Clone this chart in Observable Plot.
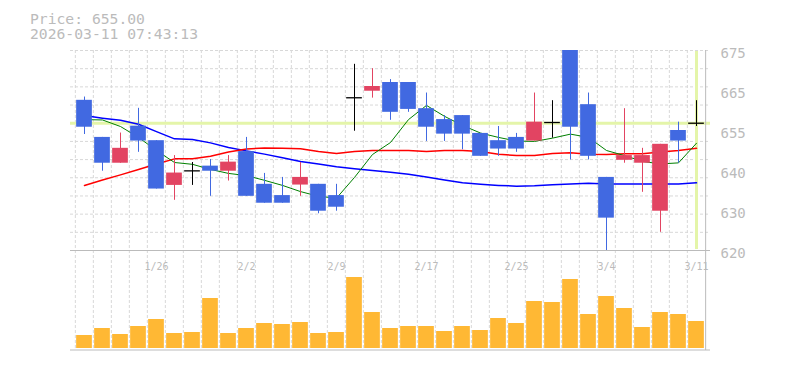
<!DOCTYPE html>
<html><head><meta charset="utf-8">
<script src="https://cdn.jsdelivr.net/npm/d3@7"></script>
<script src="https://cdn.jsdelivr.net/npm/@observablehq/plot@0.6"></script>
<style>
html,body{margin:0;padding:0;background:#fff;overflow:hidden;}
#wrap{position:relative;width:785px;height:370px;overflow:hidden;}
#title{position:absolute;left:30px;top:11px;font-family:"DejaVu Sans Mono",monospace;font-size:14.7px;line-height:15px;color:#bbb;white-space:pre;z-index:3;}
#vol{position:absolute;left:0;top:250px;z-index:1;}
#price{position:absolute;left:0;top:0;z-index:2;}
#wrap svg{display:block;max-width:none;}
</style></head><body>
<div id="wrap"><div id="vol"></div><div id="price"></div><div id="title"></div></div>
<script>
const titleLines = ["Price: 655.00", "2026-03-11 07:43:13"];
const currentPrice = 655.00;
const dates = ["1/20","1/21","1/22","1/23","1/26","1/27","1/28","1/29","1/30","2/2","2/3","2/4","2/5","2/6","2/9","2/10","2/12","2/13","2/16","2/17","2/18","2/19","2/20","2/24","2/25","2/26","2/27","3/2","3/3","3/4","3/5","3/6","3/9","3/10","3/11"];
const open  = [661.3,651.1,644.0,654.2,650.2,637.9,641.9,643.2,641.8,647.2,638.2,635.1,638.0,638.2,635.1,662.0,663.8,666.2,666.2,659.0,656.0,657.1,652.2,650.2,651.1,650.1,655.2,675.0,660.1,640.1,644.8,644.0,630.8,653.0,655.0];
const high  = [662.2,651.1,652.3,659.1,650.2,646.1,644.2,645.0,646.1,651.1,641.2,640.1,644.2,638.2,638.2,671.2,670.0,667.0,666.2,663.3,657.1,657.1,652.2,654.1,652.2,663.3,661.2,675.0,663.3,640.1,659.0,648.1,649.2,655.3,661.2];
const low   = [651.9,641.8,644.0,647.0,636.9,633.8,637.9,634.9,639.1,634.9,633.0,633.0,634.9,630.1,630.8,652.8,661.9,655.8,658.0,650.0,650.0,647.7,645.9,645.9,647.0,650.1,650.9,644.9,644.9,620.0,644.0,636.0,625.0,644.0,654.1];
const close = [653.9,644.0,648.1,650.1,636.9,641.3,641.9,641.8,644.3,634.9,633.0,633.0,640.1,630.8,631.9,662.0,665.1,658.0,658.8,653.9,652.0,652.0,645.9,647.9,647.9,655.3,655.2,653.9,645.9,628.9,646.1,646.1,649.2,650.1,655.0];
const volume = [13,20,14,22,29,15,16,50,15,20,25,24,26,15,16,71,36,20,22,22,17,22,18,30,25,47,46,69,34,52,40,21,36,34,27];
const ma5  = [656.0,655.9,654.1,651.1,647.5,644.2,643.7,642.3,641.2,640.6,639.3,637.9,636.2,634.9,634.4,640.1,646.4,649.7,656.0,659.9,656.9,654.4,652.3,651.1,650.1,650.0,650.9,652.0,651.1,647.5,646.1,644.5,643.8,644.1,649.5];
const ma25 = [637.9,639.4,640.8,642.3,643.8,645.2,645.2,645.9,647.1,647.9,648.2,648.1,648.0,647.2,646.7,647.2,647.5,647.5,647.5,647.2,647.5,647.5,647.2,646.5,646.1,646.1,646.7,646.9,646.5,646.4,646.6,646.6,647.1,647.5,648.1];
const ma75 = [657.1,656.4,655.8,654.7,652.7,650.7,650.5,649.6,648.3,647.4,646.5,645.5,644.5,643.8,643.0,642.5,642.0,641.5,641.0,640.2,639.4,638.6,638.2,637.9,637.7,637.8,638.1,638.3,638.5,638.3,638.3,638.3,638.3,638.3,638.6];
const priceTicks = [620,631,642,653,664,675];
const priceTickLabels = ["620","630","640","655","665","675"];
const gridPrices = [625,630,635,640,645,650,655,660,665,670,675];
const dateLabels = ["1/26","2/2","2/9","2/17","2/25","3/4","3/11"];

const RED = "#e24462", BLUE = "#4169e1", YEL = "#e4f5a9", GRID = "#d8d8d8", EDGE = "#bbbbbb", TXT = "#bbbbbb";
const MONO = "'DejaVu Sans Mono', monospace";
const W = 785, ML = 70, MR = 75;
const bw = (W - ML - MR) / dates.length;
const inset = 1.15;
const last = dates[dates.length - 1];

const rows = dates.map((d, i) => ({date: d, open: open[i], high: high[i], low: low[i], close: close[i]}));
const col = r => r.close > r.open ? RED : r.close < r.open ? BLUE : "#000000";

document.getElementById("title").textContent = titleLines.join("\n");

const xScale = {type: "band", domain: dates, padding: 0, axis: null};

const pricePlot = Plot.plot({
  width: W, height: 250, marginLeft: ML, marginRight: MR, marginTop: 50, marginBottom: 0,
  x: xScale,
  y: {domain: [620, 675], axis: null},
  color: {type: "identity"},
  style: {background: "transparent", overflow: "visible", fontFamily: MONO},
  marks: [
    Plot.ruleX(dates, {x: d => d, dx: -bw / 2, stroke: GRID, strokeDasharray: "3,2"}),
    Plot.ruleY(gridPrices, {stroke: GRID, strokeDasharray: "3,2"}),
    Plot.ruleY([currentPrice], {stroke: YEL, strokeWidth: 3}),
    Plot.ruleX([last], {stroke: YEL, strokeWidth: 3, insetTop: 1, insetBottom: 1}),
    Plot.ruleY([620], {stroke: EDGE}),
    Plot.ruleX([last], {dx: bw / 2, stroke: EDGE}),
    Plot.line(dates, {x: d => d, y: (d, i) => ma75[i], stroke: "#0000ff", strokeWidth: 1.5}),
    Plot.line(dates, {x: d => d, y: (d, i) => ma25[i], stroke: "#ff0000", strokeWidth: 1.5}),
    Plot.line(dates, {x: d => d, y: (d, i) => ma5[i], stroke: "#008000", strokeWidth: 1}),
    Plot.ruleX(rows, {x: "date", y1: "low", y2: "high", stroke: col, strokeWidth: 1}),
    Plot.barY(rows.filter(r => r.open !== r.close), {x: "date", y1: "open", y2: "close", fill: col, insetLeft: inset, insetRight: inset}),
    Plot.tickY(rows.filter(r => r.open === r.close), {x: "date", y: "close", stroke: "#000000", strokeWidth: 1.3, insetLeft: inset, insetRight: inset}),
    Plot.axisY({anchor: "right", ticks: priceTicks, tickSize: 0, tickPadding: 10, label: null,
      tickFormat: d => priceTickLabels[priceTicks.indexOf(d)], fontSize: 14, fontFamily: MONO, fill: TXT, dy: 3})
  ]
});

const volPlot = Plot.plot({
  width: W, height: 120, marginLeft: ML, marginRight: MR, marginTop: 0, marginBottom: 22,
  x: xScale,
  y: {domain: [0, 98], axis: null},
  style: {background: "transparent", overflow: "visible", fontFamily: MONO},
  marks: [
    Plot.ruleX(dates, {x: d => d, dx: -bw / 2, stroke: GRID, strokeDasharray: "3,2"}),
    Plot.barY(dates, {x: d => d, y: (d, i) => volume[i], fill: "#ffb834", insetLeft: inset, insetRight: inset}),
    Plot.text(dateLabels, {x: d => d, frameAnchor: "top", dy: 12.5, fill: TXT, fontSize: 10, fontFamily: MONO}),
    Plot.ruleY([0], {dy: 1.5, stroke: EDGE}),
    Plot.ruleX([last], {dx: bw / 2, stroke: EDGE, insetBottom: -2})
  ]
});

document.getElementById("price").appendChild(pricePlot);
document.getElementById("vol").appendChild(volPlot);
</script>
</body></html>
